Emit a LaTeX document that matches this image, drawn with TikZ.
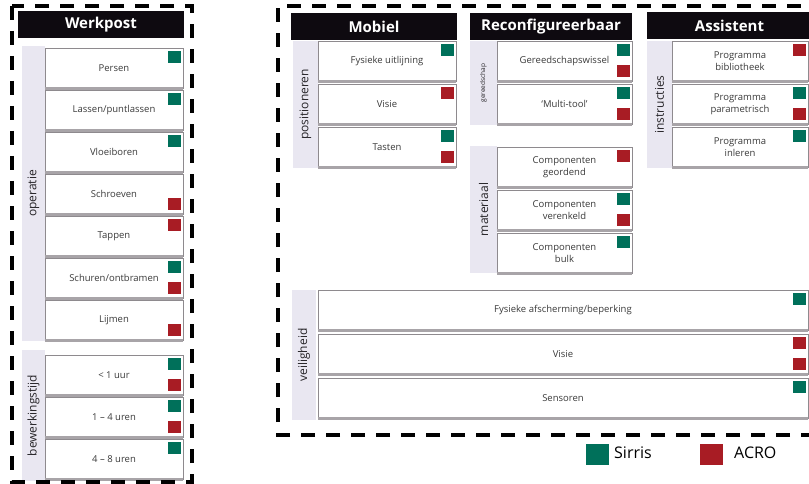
\documentclass[tikz,border=0pt]{standalone}
\usepackage{fontspec}
\setmainfont{Open Sans}
\definecolor{sgreen}{HTML}{00705A}
\definecolor{ared}{HTML}{A81C24}
\definecolor{stripc}{HTML}{E9E7F1}
\definecolor{hdr}{HTML}{0E0A10}
\definecolor{bordc}{HTML}{8E8A8E}
\definecolor{shadc}{HTML}{A8A4A8}
\definecolor{txtc}{HTML}{3A3A3A}
\definecolor{striptxt}{HTML}{262428}
\tikzset{
  frame/.style={line width=3.2pt, dash pattern=on 14pt off 11pt, black},
  hdrst/.style={fill=hdr, text=white, inner sep=0pt, font=\bfseries\fontsize{15}{16}\selectfont},
  cellst/.style={fill=white, draw=bordc, line width=0.9pt, inner sep=0pt, align=center, text=txtc, font=\fontsize{9.5}{12}\selectfont},
  shadst/.style={draw=shadc, line width=2.6pt},
  stripst/.style={fill=stripc, inner sep=0pt, rotate=90, text=striptxt, font=\fontsize{12}{13}\selectfont},
  sqst/.style={minimum width=12.5pt, minimum height=12.5pt, inner sep=0pt},
  legsq/.style={minimum width=23pt, minimum height=21pt, inner sep=0pt},
  legtxt/.style={font=\fontsize{16}{18}\selectfont, text=black, anchor=west, inner sep=0pt}
}
% name, x1, y1, x2, y2, text
\newcommand\mycell[6]{%
  \node[cellst, minimum width={#4-#2}, minimum height={#5-#3}] (#1) at ({(#2+#4)/2},{(#3+#5)/2}) {#6};
  \draw[shadst] (#1.south west) -- (#1.south east);}
\newcommand\myhdr[6]{%
  \node[hdrst, minimum width={#4-#2}, minimum height={#5-#3}] (#1) at ({(#2+#4)/2},{(#3+#5)/2}) {#6};}
% name, x1, y1, x2, y2, text (vertical strip, text rotated)
\newcommand\mystrip[6]{%
  \node[stripst, minimum width={#5-#3}, minimum height={#4-#2}] (#1) at ({(#2+#4)/2},{(#3+#5)/2}) {#6};}
\newcommand\sqT[2]{\node[sqst, fill=#2, anchor=north east] (#1-t) at ([xshift=-2.5pt,yshift=-3pt]#1.north east) {};}
\newcommand\sqB[2]{\node[sqst, fill=#2, anchor=south east] (#1-b) at ([xshift=-2.5pt,yshift=4pt]#1.south east) {};}
\begin{document}
\begin{tikzpicture}[x=1pt,y=-1pt]
\useasboundingbox (0,0) rectangle (809,484);
\clip (0,0) rectangle (809,484);
\fill[white] (0,0) rectangle (809,484);

% ---------- Werkpost ----------
\myhdr{hW}{18}{11}{184}{38}{Werkpost}
\mystrip{sOp}{22}{46}{45}{341}{operatie}
\mycell{p1}{45}{48}{183}{88}{Persen}
\mycell{p2}{45}{90}{183}{130}{Lassen/puntlassen}
\mycell{p3}{45}{132}{183}{172}{Vloeiboren}
\mycell{p4}{45}{174}{183}{214}{Schroeven}
\mycell{p5}{45}{216}{183}{256}{Tappen}
\mycell{p6}{45}{258}{183}{298}{Schuren/ontbramen}
\mycell{p7}{45}{300}{183}{340}{Lijmen}
\sqT{p1}{sgreen}
\sqT{p2}{sgreen}
\sqT{p3}{sgreen}
\sqB{p4}{ared}
\sqT{p5}{ared}
\sqT{p6}{sgreen}\sqB{p6}{ared}
\sqB{p7}{ared}

\mystrip{sBt}{22}{350}{45}{481}{bewerkingstijd}
\mycell{b1}{45}{355}{183}{395}{< 1 uur}
\mycell{b2}{45}{397}{183}{437}{1 – 4 uren}
\mycell{b3}{45}{439}{183}{479}{4 – 8 uren}
\sqT{b1}{sgreen}\sqB{b1}{ared}
\sqT{b2}{sgreen}\sqB{b2}{ared}
\sqT{b3}{sgreen}

% ---------- Mobiel ----------
\myhdr{hM}{291}{13}{457}{40}{Mobiel}
\mystrip{sPos}{293}{41}{318}{168}{positioneren}
\mycell{m1}{318}{41}{456}{81}{Fysieke uitlijning}
\mycell{m2}{318}{84}{456}{124}{Visie}
\mycell{m3}{318}{127}{456}{167}{Tasten}
\sqT{m1}{sgreen}
\sqT{m2}{ared}
\sqT{m3}{sgreen}\sqB{m3}{ared}

% ---------- Reconfigureerbaar ----------
\myhdr{hR}{470}{13}{632}{40}{Reconfigureerbaar}
\node[stripst, font=\fontsize{6.5}{7}\selectfont, minimum width=84pt, minimum height=27pt] (sGer) at (483.5,83) {gereedschap};
\mycell{r1}{497}{41}{632}{81}{Gereedschapswissel}
\mycell{r2}{497}{84}{632}{124}{‘Multi-tool’}
\sqT{r1}{sgreen}\sqB{r1}{ared}
\sqT{r2}{sgreen}\sqB{r2}{ared}
\mystrip{sMat}{470}{146}{497}{273}{materiaal}
\mycell{r3}{497}{147}{632}{187}{Componenten\\geordend}
\mycell{r4}{497}{190}{632}{230}{Componenten\\verenkeld}
\mycell{r5}{497}{233}{632}{273}{Componenten\\bulk}
\sqT{r3}{ared}
\sqT{r4}{sgreen}\sqB{r4}{ared}
\sqT{r5}{sgreen}

% ---------- Assistent ----------
\myhdr{hA}{647}{12}{812}{39}{Assistent}
\mystrip{sIns}{647}{41}{672}{168}{instructies}
\mycell{a1}{672}{41}{808}{81}{Programma\\bibliotheek}
\mycell{a2}{672}{84}{808}{124}{Programma\\parametrisch}
\mycell{a3}{672}{127}{808}{167}{Programma\\inleren}
\sqT{a1}{ared}
\sqT{a2}{sgreen}\sqB{a2}{ared}
\sqT{a3}{sgreen}

% ---------- veiligheid ----------
\mystrip{sVei}{292}{290}{316}{420}{veiligheid}
\mycell{v1}{318}{290}{808}{330}{Fysieke afscherming/beperking}
\mycell{v2}{318}{334}{808}{374}{Visie}
\mycell{v3}{318}{378}{808}{418}{Sensoren}
\sqT{v1}{sgreen}
\sqT{v2}{ared}\sqB{v2}{ared}
\sqT{v3}{sgreen}

% ---------- frames ----------
\draw[frame] (12,6) rectangle (192,482);
\draw[frame] (815,435) -- (278,435) -- (278,6) -- (815,6);

% ---------- legend ----------
\node[legsq, fill=sgreen] (lg) at (597.5,454) {};
\node[legtxt] (lgt) at (614,453) {Sirris};
\node[legsq, fill=ared] (lr) at (711.5,454) {};
\node[legtxt] (lrt) at (734,453) {ACRO};
\end{tikzpicture}
\end{document}
